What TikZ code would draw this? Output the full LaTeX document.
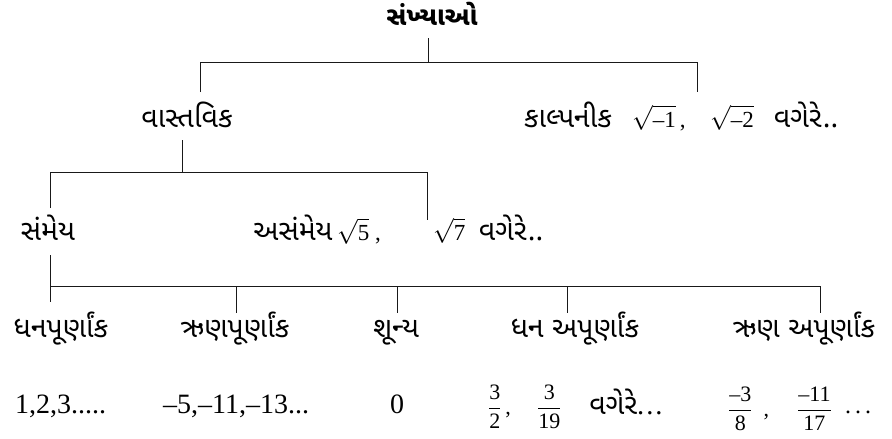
\documentclass[tikz,border=0pt]{standalone}
\usepackage{amsmath}
\usepackage{fontspec}
\setmainfont{Liberation Serif}
\newfontfamily\guj[Script=Gujarati]{Noto Sans Gujarati UI}
\newcommand\gn[1]{\mbox{\rmfamily #1}}
\begin{document}
\begin{tikzpicture}[x=1pt,y=-1pt,
  lbl/.style={inner sep=0pt, font=\fontsize{28.5}{32}\selectfont\guj, anchor=base},
  num/.style={inner sep=0pt, font=\fontsize{28}{32}\selectfont\rmfamily, anchor=base west},
  mth/.style={inner sep=0pt, font=\fontsize{23}{27}\selectfont\rmfamily, anchor=base west},
  frc/.style={inner sep=0pt, font=\fontsize{22}{26}\selectfont\rmfamily, anchor=base west},
  link/.style={line width=1pt, draw=black!90}]
\useasboundingbox (0,0) rectangle (892,439);
% texts
\node[lbl, font=\fontsize{26}{29}\selectfont\guj\bfseries] (title) at (432,25) {સંખ્યાઓ};
\node[lbl] (real) at (187,127) {વાસ્તવિક};
\node[lbl] (imag) at (568,127) {કાલ્પનીક};
\node[mth] (im1) at (632,127) {$\sqrt{\gn{–1}}$\,,};
\node[mth] (im2) at (710,127) {$\sqrt{\gn{–2}}$};
\node[lbl] (imetc) at (806,127) {વગેરે\hspace{1pt}..};
\node[lbl] (rat) at (48,240) {સંમેય};
\node[lbl] (irr) at (293,240) {અસંમેય};
\node[mth] (ir1) at (337,240) {$\sqrt{\gn{5}}$\ ,};
\node[mth] (ir2) at (433,240) {$\sqrt{\gn{7}}$};
\node[lbl] (iretc) at (511,240) {વગેરે\hspace{1pt}..};
\node[lbl] (pi) at (61,337) {ધનપૂર્ણાંક};
\node[lbl] (ni) at (235,337) {ઋણપૂર્ણાંક};
\node[lbl] (zr) at (396,337) {શૂન્ય};
\node[lbl] (pf) at (575,337) {ધન અપૂર્ણાંક};
\node[lbl] (nf) at (804,337) {ઋણ અપૂર્ણાંક};
\node[num] (pin) at (15,413) {1,2,3.....};
\node[num] (nin) at (163,413) {–5,–11,–13...};
\node[num, anchor=base] (zrn) at (397,413) {0};
\node[frc] (pf1) at (488,414) {$\dfrac{\gn{3}}{\gn{2}}$\,,};
\node[frc] (pf2) at (537,414) {$\dfrac{\gn{3}}{\gn{19}}$};
\node[lbl] (pfetc) at (626,414) {વગેરે\gn{.\hspace{2pt}.\hspace{2pt}.}};
\node[frc] (nf1) at (728,416) {$\dfrac{\gn{–3}}{\gn{8}}$\ \ ,};
\node[frc] (nf2) at (797,416) {$\dfrac{\gn{–11}}{\gn{17}}$};
\node[frc, font=\fontsize{24}{26}\selectfont\rmfamily] (nfetc) at (845,413) {.\hspace{4pt}.\hspace{4pt}.};
% junction coordinates
\coordinate (t0) at (428,38);
\coordinate (t1) at (428,62);
\coordinate (a0) at (200,62);
\coordinate (a1) at (200,92);
\coordinate (b0) at (697,62);
\coordinate (b1) at (697,92);
\coordinate (r0) at (182,140);
\coordinate (r1) at (182,172);
\coordinate (c0) at (50,172);
\coordinate (c1) at (50,208);
\coordinate (d0) at (427,172);
\coordinate (d1) at (427,220);
\coordinate (s0) at (50,255);
\coordinate (s1) at (50,302);
\coordinate (h0) at (50,286);
\coordinate (h4) at (820,286);
\coordinate (k1) at (236,286);
\coordinate (k1e) at (236,313);
\coordinate (k2) at (397,286);
\coordinate (k2e) at (397,313);
\coordinate (k3) at (567,286);
\coordinate (k3e) at (567,313);
\coordinate (k4e) at (820,313);
% connectors
\draw[link] (t0) -- (t1);
\draw[link] (a1) -- (a0) -- (b0) -- (b1);
\draw[link] (r0) -- (r1);
\draw[link] (c1) -- (c0) -- (d0) -- (d1);
\draw[link] (s0) -- (s1);
\draw[link] (h0) -- (h4) -- (k4e);
\draw[link] (k1) -- (k1e);
\draw[link] (k2) -- (k2e);
\draw[link] (k3) -- (k3e);
\end{tikzpicture}
\end{document}
